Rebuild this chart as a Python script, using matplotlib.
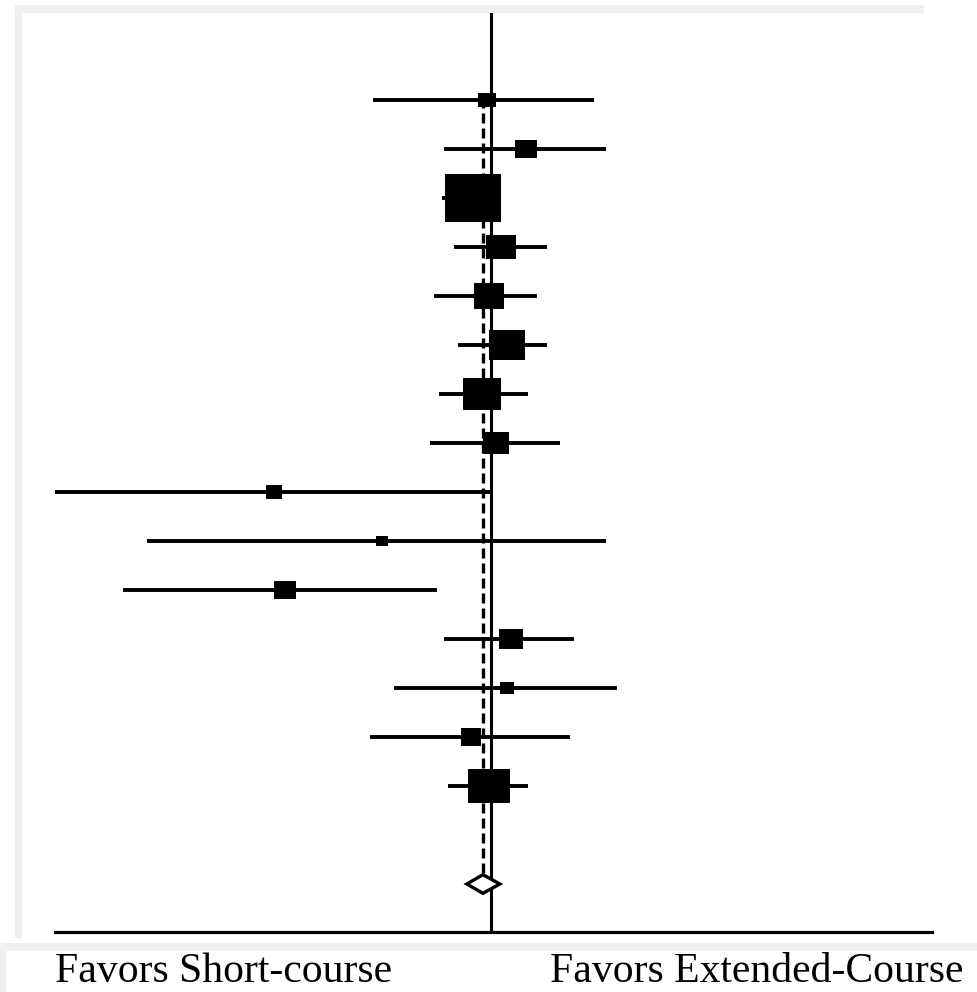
import numpy as np
import matplotlib
matplotlib.use("Agg")
import matplotlib.pyplot as plt
from matplotlib.patches import Rectangle, Polygon
from matplotlib.path import Path

# study estimates (risk ratio) with 95% CI, and weights (%)
rr = [0.96, 1.45, 0.83, 1.11, 0.98, 1.18, 0.91, 1.05, 0.103, 0.32, 0.115, 1.23, 1.18, 0.81, 0.98]
lo = [0.29, 0.61, 0.60, 0.68, 0.55, 0.71, 0.58, 0.53, 0.0102, 0.027, 0.021, 0.61, 0.36, 0.28, 0.64]
hi = [2.95, 3.35, 1.10, 1.80, 1.62, 1.80, 1.48, 2.07, 0.99, 3.35, 0.57, 2.39, 3.76, 2.30, 1.48]
weight = [2.4, 3.7, 24.9, 6.7, 7.1, 10.0, 10.7, 5.1, 2.2, 1.2, 3.9, 4.3, 1.5, 3.3, 13.0]

pooled = 0.92
pooled_lo = 0.777
pooled_hi = 1.099

label_left = "Favors Short-course"
label_right = "Favors Extended-Course"

W, H = 978, 992
fig = plt.figure(figsize=(W / 100, H / 100), dpi=100)
fig.patch.set_facecolor("white")

gray = "#f0f0f0"
def frect(x0, y0, x1, y1):
    # rectangle in pixel coords (y from top)
    fig.patches.append(Rectangle((x0 / W, 1 - y1 / H), (x1 - x0) / W, (y1 - y0) / H,
                                 transform=fig.transFigure, facecolor=gray,
                                 edgecolor="none", zorder=0))

frect(15, 5, 924, 13)
frect(15, 5, 22, 938)
frect(0, 943, 978, 951)
frect(0, 943, 6, 992)

ax = fig.add_axes([55 / W, 1 - 932 / H, (932 - 55) / W, (932 - 13) / H])
ax.set_facecolor("none")
ax.set_xscale("log")
ax.set_xlim(10 ** -1.988, 10 ** 2.012)
ax.set_ylim(16.98, -1.78)
for s in ["top", "left", "right"]:
    ax.spines[s].set_visible(False)
ax.spines["bottom"].set_linewidth(2.3)
ax.set_xticks([])
ax.set_yticks([])
ax.minorticks_off()
ax.tick_params(which="both", bottom=False, left=False)

rows = np.arange(len(rr))
pooled_row = len(rr) + 1

ax.axvline(1.0, color="black", lw=2.2, zorder=2)
ax.vlines(pooled, rows[0] - 0.05, pooled_row - 0.18, color="black", lw=2.4,
          linestyles=(0, (3, 1.5)), zorder=2)

ax.hlines(rows, lo, hi, color="black", lw=2.8, zorder=3)

aspect = 1.2
box = Path([(-0.5, -0.5 / aspect), (0.5, -0.5 / aspect), (0.5, 0.5 / aspect),
            (-0.5, 0.5 / aspect), (-0.5, -0.5 / aspect)],
           [Path.MOVETO, Path.LINETO, Path.LINETO, Path.LINETO, Path.CLOSEPOLY])
for r, x, w in zip(rows, rr, weight):
    h_px = np.sqrt(108 * w / aspect)
    w_px = h_px * aspect
    ax.plot([x], [r], marker=box, markersize=w_px * 0.72, color="black",
            markeredgewidth=0, linestyle="none", zorder=4)

diamond = Polygon([(pooled_lo, pooled_row), (pooled, pooled_row - 0.19),
                   (pooled_hi, pooled_row), (pooled, pooled_row + 0.19)],
                  closed=True, facecolor="white", edgecolor="black", lw=2.4, zorder=5)
ax.add_patch(diamond)

fig.text(55 / W, 1 - 982 / H, label_left, family="Liberation Serif", fontsize=30,
         ha="left", va="baseline")
fig.text(550 / W, 1 - 982 / H, label_right, family="Liberation Serif", fontsize=30,
         ha="left", va="baseline")

fig.savefig("out.png", dpi=100)
